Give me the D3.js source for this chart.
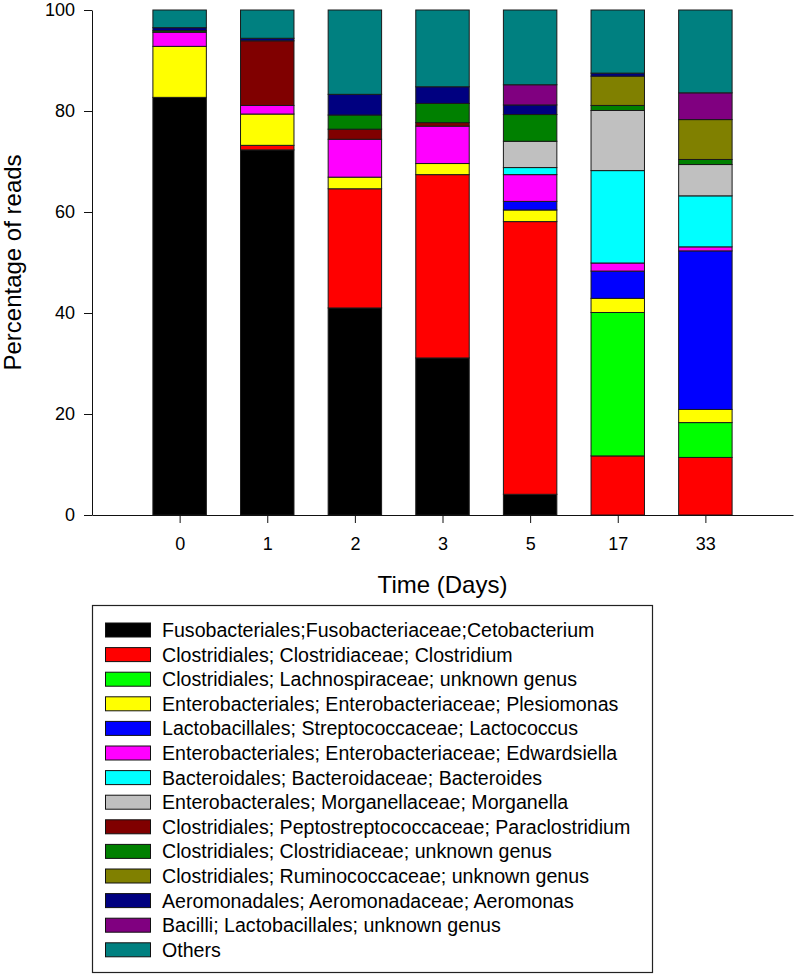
<!DOCTYPE html>
<html>
<head>
<meta charset="utf-8">
<script src="https://cdn.jsdelivr.net/npm/d3@7"></script>
<style>
  html, body { margin: 0; padding: 0; background: #fff; }
  svg { display: block; font-family: "Liberation Sans", Arial, sans-serif; }
</style>
</head>
<body>
<svg id="chart" width="795" height="978"></svg>
<script>
// ---- data ----
const categories = ["0", "1", "2", "3", "5", "17", "33"];
const seriesNames = [
  "Fusobacteriales;Fusobacteriaceae;Cetobacterium",
  "Clostridiales; Clostridiaceae; Clostridium",
  "Clostridiales; Lachnospiraceae; unknown genus",
  "Enterobacteriales; Enterobacteriaceae; Plesiomonas",
  "Lactobacillales; Streptococcaceae; Lactococcus",
  "Enterobacteriales; Enterobacteriaceae; Edwardsiella",
  "Bacteroidales; Bacteroidaceae; Bacteroides",
  "Enterobacterales; Morganellaceae; Morganella",
  "Clostridiales; Peptostreptococcaceae; Paraclostridium",
  "Clostridiales; Clostridiaceae; unknown genus",
  "Clostridiales; Ruminococcaceae; unknown genus",
  "Aeromonadales; Aeromonadaceae; Aeromonas",
  "Bacilli; Lactobacillales; unknown genus",
  "Others"
];
const seriesColors = ["#000000", "#FF0000", "#00FF00", "#FFFF00", "#0000FF", "#FF00FF",
  "#00FFFF", "#C0C0C0", "#800000", "#008000", "#808000", "#000080", "#800080", "#008080"];

const cetobacterium   = [82.7, 72.3, 41.0, 31.1,  4.1,  0.0,  0.0];
const clostridium     = [ 0.0,  0.9, 23.6, 36.3, 54.0, 11.7, 11.4];
const lachnospiraceae = [ 0.0,  0.0,  0.0,  0.0,  0.0, 28.4,  6.9];
const plesiomonas     = [10.1,  6.2,  2.3,  2.2,  2.3,  2.8,  2.6];
const lactococcus     = [ 0.0,  0.0,  0.0,  0.0,  1.7,  5.4, 31.4];
const edwardsiella    = [ 2.8,  1.7,  7.5,  7.4,  5.3,  1.6,  0.8];
const bacteroides     = [ 0.0,  0.0,  0.0,  0.0,  1.4, 18.3, 10.1];
const morganella      = [ 0.0,  0.0,  0.0,  0.0,  5.2, 11.9,  6.2];
const paraclostridium = [ 0.0, 12.8,  2.0,  0.7,  0.0,  0.0,  0.0];
const clostUnknown    = [ 0.3,  0.0,  2.8,  3.8,  5.3,  1.0,  1.0];
const ruminococcaceae = [ 0.0,  0.0,  0.0,  0.0,  0.0,  5.8,  7.9];
const aeromonas       = [ 0.6,  0.5,  4.1,  3.3,  1.9,  0.6,  0.0];
const bacilliUnknown  = [ 0.0,  0.0,  0.0,  0.0,  4.0,  0.0,  5.3];
const others          = [ 3.5,  5.6, 16.7, 15.2, 14.8, 12.5, 16.4];

const yTicks = [0, 20, 40, 60, 80, 100];

const seriesValues = [cetobacterium, clostridium, lachnospiraceae, plesiomonas, lactococcus,
  edwardsiella, bacteroides, morganella, paraclostridium, clostUnknown, ruminococcaceae,
  aeromonas, bacilliUnknown, others];

// ---- layout ----
const svg = d3.select("#chart");
const plotLeft = 92, plotRight = 793, plotTop = 10, plotBottom = 515;

const x = d3.scalePoint().domain(categories).range([plotLeft, plotRight]).padding(1);
const barW = x.step() * 0.61;
const y = d3.scaleLinear().domain([0, 100]).range([plotBottom, plotTop]);

// table for stacking
const table = categories.map((c, i) => {
  const row = { cat: c };
  seriesNames.forEach((s, j) => row[s] = seriesValues[j][i]);
  return row;
});
const stacked = d3.stack().keys(seriesNames)(table);

const g = svg.append("g");
stacked.forEach((layer, j) => {
  g.selectAll(null)
    .data(layer.filter(d => d[1] - d[0] > 0))
    .enter().append("rect")
    .attr("x", d => x(d.data.cat) - barW / 2)
    .attr("width", barW)
    .attr("y", d => y(d[1]))
    .attr("height", d => y(d[0]) - y(d[1]))
    .attr("fill", seriesColors[j])
    .attr("stroke", "#1a1a1a")
    .attr("stroke-width", 1);
});

// axes
const yAxis = d3.axisLeft(y).tickValues(yTicks).tickSize(8).tickSizeOuter(0).tickPadding(9);
const yg = svg.append("g").attr("transform", `translate(${plotLeft},0)`).call(yAxis);
const xAxis = d3.axisBottom(x).tickSize(8).tickSizeOuter(0).tickPadding(14);
const xg = svg.append("g").attr("transform", `translate(0,${plotBottom})`).call(xAxis);
[yg, xg].forEach(a => {
  a.selectAll("path, line").attr("stroke", "#111").attr("stroke-width", 1);
  a.selectAll("text").attr("fill", "#000").style("font-size", "18px")
    .style("font-family", '"Liberation Sans", Arial, sans-serif');
});

// axis titles
svg.append("text")
  .attr("transform", `translate(21,${(plotTop + plotBottom) / 2}) rotate(-90)`)
  .attr("text-anchor", "middle")
  .style("font-size", "24px")
  .text("Percentage of reads");
svg.append("text")
  .attr("x", (plotLeft + plotRight) / 2)
  .attr("y", 593)
  .attr("text-anchor", "middle")
  .style("font-size", "24px")
  .text("Time (Days)");

// legend
const lg = svg.append("g");
lg.append("rect")
  .attr("x", 92.5).attr("y", 605.5).attr("width", 560).attr("height", 367)
  .attr("fill", "none").attr("stroke", "#222").attr("stroke-width", 1.2);
const rowY = i => 630 + i * 24.6;
seriesNames.forEach((name, i) => {
  lg.append("rect")
    .attr("x", 105.5).attr("y", rowY(i) - 7).attr("width", 45).attr("height", 14)
    .attr("fill", seriesColors[i]).attr("stroke", "#111").attr("stroke-width", 1);
  lg.append("text")
    .attr("x", 162).attr("y", rowY(i)).attr("dy", "0.36em")
    .style("font-size", "19.6px")
    .text(name);
});
</script>
</body>
</html>
